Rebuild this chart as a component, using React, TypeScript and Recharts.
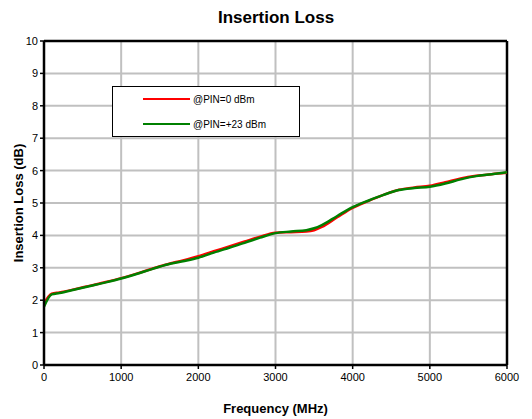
import React from "react";
import { LineChart, Line, XAxis, YAxis, CartesianGrid, Legend, ReferenceLine } from "recharts";

const freqs = [0, 100, 200, 400, 600, 800, 1000, 1200, 1400, 1600, 1800, 2000, 2200, 2400, 2600, 2800, 3000, 3200, 3400, 3500, 3600, 3800, 4000, 4200, 4400, 4600, 4800, 5000, 5200, 5400, 5600, 5800, 6000];
const pin0 = [1.9, 2.2, 2.24, 2.34, 2.45, 2.56, 2.68, 2.82, 2.97, 3.11, 3.23, 3.36, 3.51, 3.66, 3.81, 3.96, 4.08, 4.1, 4.12, 4.16, 4.26, 4.56, 4.85, 5.06, 5.25, 5.41, 5.48, 5.53, 5.64, 5.76, 5.84, 5.89, 5.93];
const pin23 = [1.8, 2.18, 2.22, 2.33, 2.44, 2.55, 2.67, 2.81, 2.96, 3.1, 3.2, 3.31, 3.47, 3.62, 3.77, 3.93, 4.07, 4.12, 4.16, 4.22, 4.32, 4.6, 4.87, 5.07, 5.25, 5.4, 5.46, 5.5, 5.6, 5.73, 5.83, 5.89, 5.95];
const xTicks = [0, 1000, 2000, 3000, 4000, 5000, 6000];
const yTicks = [0, 1, 2, 3, 4, 5, 6, 7, 8, 9, 10];
const seriesNames = ["@PIN=0 dBm", "@PIN=+23 dBm"];

const data = freqs.map((f, i) => ({ f, a: pin0[i], b: pin23[i] }));
const FONT = "'Liberation Sans', Arial, sans-serif";

const LegendBox = (props: any) => {
  const payload = [...(props.payload || [])].sort(
    (p: any, q: any) => seriesNames.indexOf(p.value) - seriesNames.indexOf(q.value)
  );
  return (
    <div style={{ width: 188, height: 51, border: "1px solid #000", background: "#fff", boxSizing: "border-box", position: "relative", fontFamily: FONT, fontSize: 10 }}>
      {payload.map((p: any, i: number) => (
        <div key={i} style={{ position: "absolute", left: 30, top: 5 + i * 25, height: 14, display: "flex", alignItems: "center" }}>
          <div style={{ width: 47, height: 0, borderTop: `2.5px solid ${p.color}` }} />
          <span style={{ marginLeft: 3, color: "#000" }}>{p.value}</span>
        </div>
      ))}
    </div>
  );
};

export default function App() {
  return (
    <div style={{ position: "absolute", left: 0, top: 0, width: 532, height: 419, background: "#fff", fontFamily: FONT }}>
      <div style={{ position: "absolute", left: 0, width: 552, top: 8, textAlign: "center", fontWeight: "bold", fontSize: 17, fontFamily: FONT }}>Insertion Loss</div>
      <LineChart width={532} height={419} data={data} margin={{ top: 41, right: 25, bottom: 0, left: 0 }}>
        <CartesianGrid stroke="#c0c0c0" strokeWidth={2} />
        <XAxis
          dataKey="f"
          type="number"
          domain={[0, 6000]}
          ticks={xTicks}
          height={54}
          axisLine={{ stroke: "#000", strokeWidth: 2.5 }}
          tickLine={{ stroke: "#000", strokeWidth: 1.5 }}
          tickSize={4}
          tick={{ fill: "#000", fontSize: 11, fontFamily: FONT }}
          tickMargin={4}
          label={{ value: "Frequency (MHz)", position: "insideBottom", offset: 6, fill: "#000", fontWeight: "bold", fontSize: 13, fontFamily: FONT }}
        />
        <YAxis
          type="number"
          domain={[0, 10]}
          ticks={yTicks}
          width={44}
          axisLine={{ stroke: "#000", strokeWidth: 2.5 }}
          tickLine={{ stroke: "#000", strokeWidth: 1.5 }}
          tickSize={4}
          tickMargin={2}
          tick={{ fill: "#000", fontSize: 11, fontFamily: FONT }}
          label={{ value: "Insertion Loss (dB)", angle: -90, position: "insideLeft", offset: 18, style: { textAnchor: "middle" }, fill: "#000", fontWeight: "bold", fontSize: 13, fontFamily: FONT }}
        />
        <ReferenceLine y={10} stroke="#000" strokeWidth={2.5} />
        <ReferenceLine x={6000} stroke="#000" strokeWidth={2.5} />
        <Legend layout="horizontal" verticalAlign="middle" align="center" wrapperStyle={{ position: "absolute", left: 112, top: 86, width: 188, height: 51 }} content={<LegendBox />} />
        <Line type="monotone" dataKey="a" name={seriesNames[0]} stroke="#ff0000" strokeWidth={2.5} dot={false} isAnimationActive={false} />
        <Line type="monotone" dataKey="b" name={seriesNames[1]} stroke="#008000" strokeWidth={2.5} dot={false} isAnimationActive={false} />
      </LineChart>
    </div>
  );
}
